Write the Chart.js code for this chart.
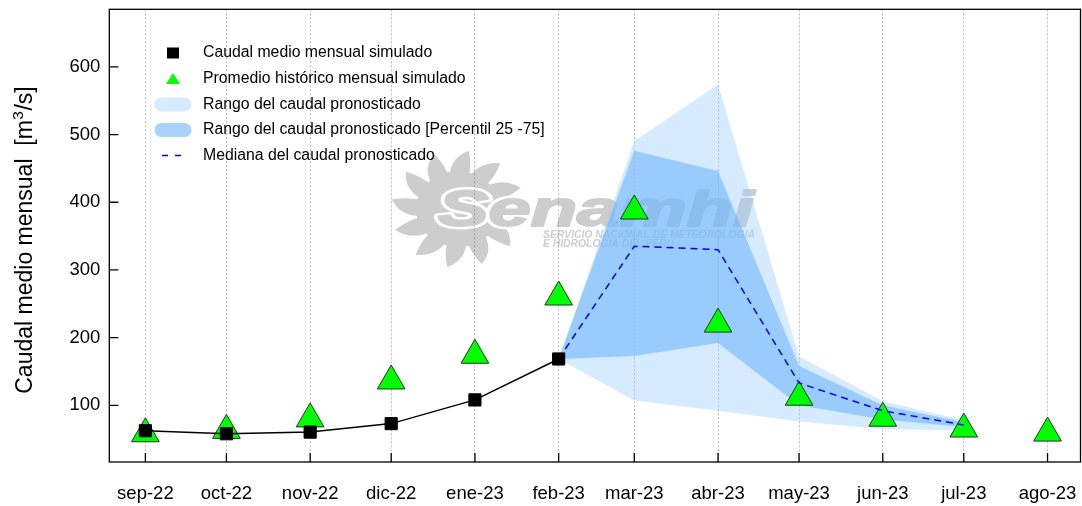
<!DOCTYPE html>
<html lang="es">
<head>
<meta charset="UTF-8">
<title>Caudal medio mensual</title>
<script src="https://cdn.jsdelivr.net/npm/chart.js@4"></script>
<style>
  body { margin: 0; background: #fff; }
  #wrap { width: 1082px; height: 506px; }
</style>
</head>
<body>
<div id="wrap"><canvas id="chart" width="1082" height="506"></canvas></div>
<script>
// months on the x axis and the date each one starts
const months = ['sep-22', 'oct-22', 'nov-22', 'dic-22', 'ene-23', 'feb-23',
                'mar-23', 'abr-23', 'may-23', 'jun-23', 'jul-23', 'ago-23'];
const monthStart = ['2022-09-01', '2022-10-01', '2022-11-01', '2022-12-01', '2023-01-01', '2023-02-01',
                    '2023-03-01', '2023-04-01', '2023-05-01', '2023-06-01', '2023-07-01', '2023-08-01'];

// caudal medio mensual simulado (sep-22 .. feb-23)
const simulated = [62.5, 58, 60.5, 73, 108, 168.5];
// promedio historico mensual simulado (sep-22 .. ago-23)
const historical = [58, 63, 80, 136, 174, 260, 387, 220, 112, 81, 65, 59];

// pronostico (feb-23 .. jul-23)
const forecastMonths = ['feb-23', 'mar-23', 'abr-23', 'may-23', 'jun-23', 'jul-23'];
const fcMin    = [168.5, 107, 92, 76, 65, 63];
const fcP25    = [168.5, 173, 192, 100, 79, 68];
const fcMedian = [168.5, 335, 330, 133, 92, 71];
const fcP75    = [168.5, 476, 446, 158, 100, 75];
const fcMax    = [168.5, 490, 574, 172, 106, 78];

const yTicks = [100, 200, 300, 400, 500, 600];

const FONT = "'Liberation Sans', Arial, sans-serif";
const LIGHT = 'rgba(153, 204, 255, 0.4)';
const DARK = 'rgba(110, 180, 250, 0.585)';

const day0 = Date.parse(monthStart[0]);
const dayOf = monthStart.map(d => (Date.parse(d) - day0) / 86400000);
const xOf = m => dayOf[months.indexOf(m)];
const pts = (labels, vals) => vals.map((v, i) => ({ x: xOf(labels[i]), y: v }));

// gray Senamhi watermark, painted opaque offscreen then blended
function makeWatermark() {
    const c = document.createElement('canvas');
    c.width = 1082; c.height = 506;
    const g = c.getContext('2d');
    const gray = '#767676';
    const cx = 458, cy = 209;
    g.fillStyle = gray;
    for (let i = 0; i < 12; i++) {
        const a = i * Math.PI / 6;
        const p = (r, t) => [cx + r * Math.cos(t), cy + r * Math.sin(t) * 0.88];
        g.beginPath();
        g.moveTo(...p(32, a - 0.26));
        g.quadraticCurveTo(...p(58, a - 0.18), ...p(67, a + 0.16));
        g.quadraticCurveTo(...p(50, a + 0.3), ...p(32, a + 0.28));
        g.closePath();
        g.fill();
    }
    g.beginPath();
    g.ellipse(cx, cy, 42, 38, 0, 0, Math.PI * 2);
    g.fill();

    g.font = 'italic bold 50px ' + FONT;
    const w = g.measureText('Senamhi').width;
    g.save();
    g.translate(438, 226);
    g.scale(316 / w, 1);
    g.lineJoin = 'round';
    g.lineWidth = 7;
    g.strokeStyle = '#fff';
    g.strokeText('Senamhi', 0, 0);
    g.lineWidth = 2;
    g.strokeStyle = gray;
    g.strokeText('Senamhi', 0, 0);
    g.fillStyle = gray;
    g.fillText('Senamhi', 0, 0);
    g.restore();

    g.font = 'italic bold 10px ' + FONT;
    g.textBaseline = 'middle';
    [['SERVICIO NACIONAL DE METEOROLOGIA', 235, 212], ['E HIDROLOGIA DEL PERU', 244.5, 131]].forEach(([t, y, tw]) => {
        g.save();
        g.translate(543, y);
        g.scale(tw / g.measureText(t).width, 1);
        g.fillText(t, 0, 0);
        g.restore();
    });
    return c;
}
const watermark = makeWatermark();

const watermarkPlugin = {
    id: 'watermark',
    beforeDatasetsDraw(chart) {
        const ctx = chart.ctx;
        ctx.save();
        ctx.globalAlpha = 0.36;
        ctx.drawImage(watermark, 0, 0);
        ctx.restore();
    }
};

// box round the plot, inward tick marks, tick labels and the y title with its superscript
const framePlugin = {
    id: 'frame',
    afterDraw(chart) {
        const { ctx, chartArea: a, scales: { x, y } } = chart;
        ctx.save();
        ctx.strokeStyle = '#000';
        ctx.lineWidth = 1.3;
        ctx.strokeRect(a.left, a.top, a.right - a.left, a.bottom - a.top);
        ctx.beginPath();
        x.ticks.forEach(t => {
            const px = x.getPixelForValue(t.value);
            ctx.moveTo(px, a.bottom);
            ctx.lineTo(px, a.bottom - 9);
        });
        y.ticks.forEach(t => {
            const py = y.getPixelForValue(t.value);
            ctx.moveTo(a.left, py);
            ctx.lineTo(a.left + 9, py);
        });
        ctx.stroke();

        ctx.fillStyle = '#000';
        ctx.font = '18.5px ' + FONT;
        ctx.textBaseline = 'middle';
        ctx.textAlign = 'center';
        x.ticks.forEach(t => ctx.fillText(months[dayOf.indexOf(t.value)], x.getPixelForValue(t.value), a.bottom + 32));
        ctx.textAlign = 'right';
        y.ticks.forEach(t => ctx.fillText(String(t.value), a.left - 9, y.getPixelForValue(t.value)));
        ctx.textAlign = 'left';

        const main = 'Caudal medio mensual  [m', sup = '3', tail = '/s]';
        const big = '23px ' + FONT, small = '15.5px ' + FONT;
        ctx.font = big;
        const w1 = ctx.measureText(main).width, w3 = ctx.measureText(tail).width;
        ctx.font = small;
        const w2 = ctx.measureText(sup).width + 1;
        const total = w1 + w2 + w3;
        ctx.translate(32, 240);
        ctx.rotate(-Math.PI / 2);
        ctx.textBaseline = 'alphabetic';
        ctx.font = big;
        ctx.fillText(main, -total / 2, 0);
        ctx.font = small;
        ctx.fillText(sup, -total / 2 + w1 + 0.5, -9.5);
        ctx.font = big;
        ctx.fillText(tail, -total / 2 + w1 + w2, 0);
        ctx.restore();
    }
};

const legendPlugin = {
    id: 'customLegend',
    afterDraw(chart) {
        const ctx = chart.ctx;
        const mx = 173, tx = 203;
        const rows = [53, 79, 104.5, 130, 155.5];
        const texts = ['Caudal medio mensual simulado',
                       'Promedio histórico mensual simulado',
                       'Rango del caudal pronosticado',
                       'Rango del caudal pronosticado [Percentil 25 -75]',
                       'Mediana del caudal pronosticado'];
        ctx.save();
        ctx.fillStyle = '#000';
        ctx.fillRect(mx - 6, rows[0] - 5.5, 12, 11);

        ctx.fillStyle = '#00ff00';
        ctx.beginPath();
        ctx.moveTo(mx, rows[1] - 6);
        ctx.lineTo(mx + 7, rows[1] + 5);
        ctx.lineTo(mx - 7, rows[1] + 5);
        ctx.closePath();
        ctx.fill();

        [[rows[2], LIGHT], [rows[3], DARK]].forEach(([ry, col]) => {
            ctx.fillStyle = col;
            ctx.beginPath();
            ctx.roundRect(mx - 18.5, ry - 7, 37, 14, 7);
            ctx.fill();
        });

        ctx.strokeStyle = '#0000ff';
        ctx.lineWidth = 1.5;
        ctx.setLineDash([6, 7]);
        ctx.beginPath();
        ctx.moveTo(mx - 11, rows[4]);
        ctx.lineTo(mx + 9, rows[4]);
        ctx.stroke();
        ctx.setLineDash([]);

        ctx.fillStyle = '#000';
        ctx.font = '15.8px ' + FONT;
        ctx.textBaseline = 'middle';
        texts.forEach((t, i) => ctx.fillText(t, tx, rows[i]));
        ctx.restore();
    }
};

const noPoint = { pointRadius: 0, pointHoverRadius: 0, borderWidth: 0, tension: 0 };

new Chart(document.getElementById('chart'), {
    type: 'line',
    data: {
        datasets: [
            {   // 0
                label: 'Caudal medio mensual simulado',
                data: pts(months, simulated),
                borderColor: '#000',
                borderWidth: 1.5,
                pointStyle: 'rect',
                pointRadius: 8.6,
                pointBackgroundColor: '#000',
                pointBorderColor: '#000',
                pointBorderWidth: 1,
                tension: 0,
                order: 0
            },
            {   // 1
                label: 'Mediana del caudal pronosticado',
                data: pts(forecastMonths, fcMedian),
                borderColor: '#0000ff',
                borderWidth: 1.5,
                borderDash: [7, 5],
                pointRadius: 0,
                pointHoverRadius: 0,
                tension: 0,
                order: 1
            },
            {   // 2
                label: 'Promedio histórico mensual simulado',
                data: pts(months, historical),
                showLine: false,
                pointStyle: 'triangle',
                pointRadius: 16,
                pointBackgroundColor: '#00ff00',
                pointBorderColor: '#1e3a1e',
                pointBorderWidth: 1,
                order: 2
            },
            {   // 3
                label: 'P25',
                data: pts(forecastMonths, fcP25),
                ...noPoint,
                fill: false,
                order: 4
            },
            {   // 4
                label: 'Rango del caudal pronosticado [Percentil 25 -75]',
                data: pts(forecastMonths, fcP75),
                ...noPoint,
                fill: 3,
                backgroundColor: DARK,
                order: 3
            },
            {   // 5
                label: 'Min',
                data: pts(forecastMonths, fcMin),
                ...noPoint,
                fill: false,
                order: 6
            },
            {   // 6
                label: 'Rango del caudal pronosticado',
                data: pts(forecastMonths, fcMax),
                ...noPoint,
                fill: 5,
                backgroundColor: LIGHT,
                order: 5
            }
        ]
    },
    options: {
        responsive: false,
        animation: false,
        events: [],
        layout: { autoPadding: false, padding: { top: 9.3, right: 1.5, left: 0, bottom: 0 } },
        plugins: {
            legend: { display: false },
            tooltip: { enabled: false }
        },
        scales: {
            x: {
                type: 'linear',
                min: -13.36,
                max: 346.2,
                afterBuildTicks: axis => { axis.ticks = dayOf.map(v => ({ value: v })); },
                afterFit: scale => { scale.height = 44; },
                grid: { color: '#b8b8b8', lineWidth: 1, drawTicks: false },
                border: { display: false, dash: [2, 2] },
                ticks: { display: false }
            },
            y: {
                min: 16.3,
                max: 685,
                afterBuildTicks: axis => { axis.ticks = yTicks.map(v => ({ value: v })); },
                afterFit: scale => { scale.width = 109.3; },
                grid: { drawOnChartArea: false, drawTicks: false },
                border: { display: false },
                ticks: { display: false }
            }
        }
    },
    plugins: [watermarkPlugin, framePlugin, legendPlugin]
});
</script>
</body>
</html>
